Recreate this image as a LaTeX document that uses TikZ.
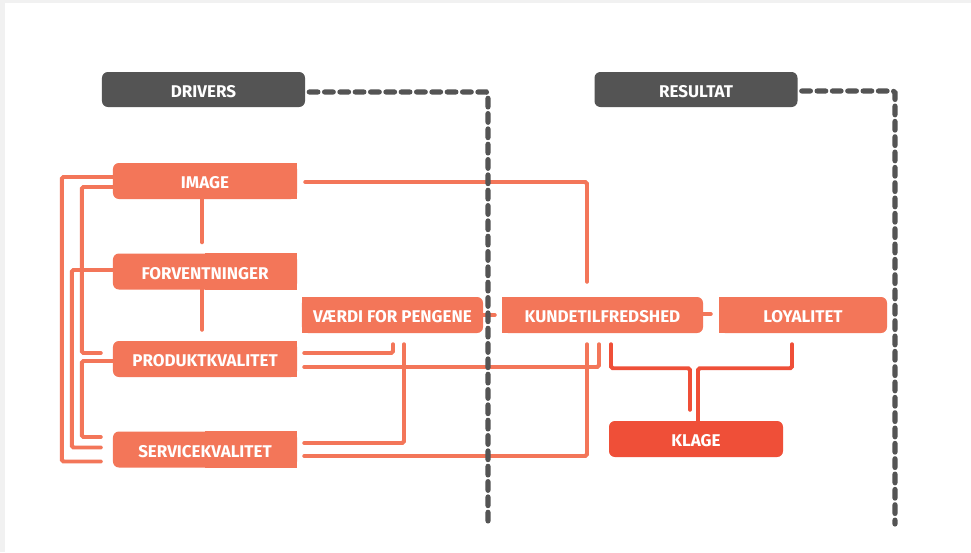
\documentclass[tikz,border=0pt]{standalone}
\usepackage{fontspec}
\setmainfont{Fira Sans}
\usetikzlibrary{calc,backgrounds}

\definecolor{koral}{RGB}{243,118,89}
\definecolor{klagerod}{RGB}{239,79,56}
\definecolor{morkgra}{RGB}{84,84,84}
\definecolor{rammegra}{RGB}{241,241,241}

\tikzset{
  boks/.style={fill=koral, rounded corners=5pt, text=white, inner sep=0pt,
    minimum height=1.08cm, text height=13.2pt, text depth=0pt,
    font=\bfseries\fontsize{14.5}{16}\selectfont},
  morkboks/.style={boks, fill=morkgra, minimum width=6.09cm, minimum height=1.05cm},
  venstreboks/.style={boks, minimum width=5.52cm},
  forbind/.style={draw=koral, line width=3.4pt, line cap=round, rounded corners=1.5pt},
  klagelinje/.style={forbind, draw=klagerod},
  stiplet/.style={draw=morkgra, line width=4.4pt, line cap=round,
    dash pattern=on 0.26cm off 0.2cm, rounded corners=1.5pt}
}

\begin{document}
\begin{tikzpicture}[x=0.03cm, y=-0.03cm]
        \useasboundingbox (0,0) rectangle (971,552);

        % Trin 1: Overskrifter
        \node[morkboks] (drivers) at (203.5,89.5) {DRIVERS};
        \node[morkboks] (resultat) at (696,89.5) {RESULTAT};

        % Trin 2: Drivers i venstre kolonne
        \node[venstreboks] (img) at (205,181) {IMAGE};
        \node[venstreboks] (forv) at (205,271.5) {FORVENTNINGER};
        \node[venstreboks] (prod) at (205,359) {PRODUKTKVALITET};
        \node[venstreboks] (serv) at (205,449.5) {SERVICEKVALITET};

        % Trin 3: Resultatbokse
        \node[boks, minimum width=5.43cm] (vaerdi) at (392.5,315) {VÆRDI FOR PENGENE};
        \node[boks, minimum width=6.03cm] (kunde) at (602.5,315) {KUNDETILFREDSHED};
        \node[boks, minimum width=5.04cm] (loyal) at (803,315) {LOYALITET};
        \node[boks, fill=klagerod, minimum width=5.22cm] (klage) at (696,439) {KLAGE};

        % Trin 4: Forbindelser til venstre
        \draw[forbind] ($(img.west)+(0,-4)$) -- ++(-51,0) |- ($(serv.west)+(-12,12)$);
        \draw[forbind] ($(img.west)+(0,6)$) -- ++(-31,0) |- ($(prod.west)+(-12,-6)$);
        \draw[forbind] ($(forv.west)+(0,-1.5)$) -- ++(-41,0) |- ($(serv.west)+(-12,-2)$);
        \draw[forbind] ($(prod.west)+(0,2)$) -- ++(-31,0) |- ($(serv.west)+(-12,-12.5)$);
        \draw[forbind] ($(img.south)+(-3,0)$) -- ($(forv.north)+(-3,-11)$);
        \draw[forbind] ($(forv.south)+(-3,0)$) -- ($(prod.north)+(-3,-11)$);

        % Trin 5: Forbindelser til hoejre
        \draw[forbind] ($(img.east)+(8,1)$) -| ($(kunde.north)+(-15.5,-15)$);
        \draw[forbind] (vaerdi.east) -- ($(kunde.west)+(-7,0)$);
        \draw[forbind] ($(kunde.east)+(0,-1)$) -- ($(loyal.west)+(-8,-1)$);
        \draw[forbind] ($(prod.east)+(7,-6)$) -| ($(vaerdi.south)+(0.5,11)$);
        \draw[forbind] ($(serv.east)+(7,-6.5)$) -| ($(vaerdi.south)+(11.5,11)$);
        \draw[forbind] ($(prod.east)+(7,8)$) -| ($(kunde.south)+(-3.5,11)$);
        \draw[forbind] ($(serv.east)+(7,6.5)$) -| ($(kunde.south)+(-15.5,11)$);
        \draw[klagelinje] ($(kunde.south)+(8.5,11)$) -- ++(0,24) -| ($(klage.north)+(-6,-11)$);
        \draw[klagelinje] ($(loyal.south)+(-11,11)$) -- ++(0,24) -| ($(klage.north)+(2,0)$);

        % Trin 6: Stiplede skillelinjer
        \coordinate (dslut) at (488,524);
        \coordinate (rslut) at (895,524);
        \draw[stiplet] ($(drivers.east)+(4,2.5)$) -| (dslut);
        \draw[stiplet] ($(resultat.east)+(4,1.5)$) -| (rslut);

        % Trin 7: Baggrund og skarpe hjoerner
        \begin{scope}[on background layer]
          \fill[rammegra] (0,0) rectangle (971,552);
          \fill[white] (5,3) rectangle (971,552);
          \foreach \b in {img,forv,prod,serv}
            \fill[koral] (\b.north) rectangle (\b.south east);
          \foreach \b in {vaerdi,kunde,loyal}
            \fill[koral] (\b.north west) rectangle (\b.south);
        \end{scope}
    \end{tikzpicture}
\end{document}
